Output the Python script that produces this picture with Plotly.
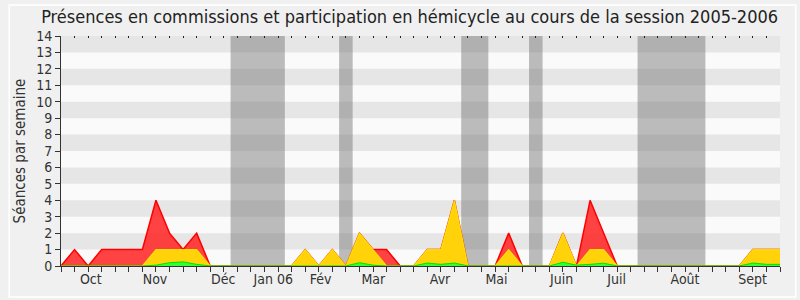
import plotly.graph_objects as go

weeks = list(range(54))
commission = [0,1,0,1,1,1,1,4,2,1,2,0,0,0,0,0,0,0,1,0,1,0,2,1,1,0,0,1,1,4,0,0,0,2,0,0,0,2,0,4,2,0,0,0,0,0,0,0,0,0,0,1,1,1]
hemicycle = [0,0,0,0,0,0,0,1,1,1,1,0,0,0,0,0,0,0,1,0,1,0,2,1,0,0,0,1,1,4,0,0,0,1,0,0,0,2,0,1,1,0,0,0,0,0,0,0,0,0,0,1,1,1]
interventions = [0,0,0,0,0,0,0,0.05,0.2,0.25,0.1,0,0,0,0,0,0,0,0,0,0,0,0.2,0.05,0,0,0,0.18,0.1,0.18,0,0,0,0,0,0,0,0.23,0.05,0.1,0.17,0,0,0,0,0,0,0,0,0,0,0.18,0.1,0.1]
month_labels = ["Oct","Nov","Déc","Jan 06","Fév","Mar","Avr","Mai","Juin","Juil","Août","Sept"]
month_pos = [2.2,6.93,11.96,15.65,19.14,23.02,27.94,32.1,36.9,40.96,46.0,50.98]
vacations = [(12.5,16.5),(20.5,21.5),(29.5,31.5),(34.5,35.5),(42.5,47.5)]
ymax = 14

fig = go.Figure()
fig.add_trace(go.Scatter(x=weeks, y=commission, mode="lines", fill="tozeroy",
                         line=dict(color="#ff0000", width=1.5), fillcolor="rgba(255,40,40,0.88)",
                         hoverinfo="skip", showlegend=False))
fig.add_trace(go.Scatter(x=weeks, y=hemicycle, mode="lines", fill="tozeroy",
                         line=dict(color="rgba(255,235,0,0.85)", width=1.2), fillcolor="#ffd20a",
                         hoverinfo="skip", showlegend=False))
fig.add_trace(go.Scatter(x=weeks, y=interventions, mode="lines", fill="tozeroy",
                         line=dict(color="#00e000", width=1), fillcolor="#33ff33",
                         hoverinfo="skip", showlegend=False))
fig.add_trace(go.Scatter(x=weeks, y=[None]*len(weeks), xaxis="x2", hoverinfo="skip", showlegend=False))

shapes = []
for k in range(ymax):
    if k % 2 == 1:
        shapes.append(dict(type="rect", xref="paper", yref="y", x0=0, x1=1, y0=k, y1=k+1,
                           fillcolor="#e6e6e6", line=dict(width=0), layer="below"))
for a, b in vacations:
    shapes.append(dict(type="rect", xref="x", yref="paper", x0=a, x1=b, y0=0, y1=1,
                       fillcolor="rgba(110,110,110,0.45)", line=dict(width=0), layer="below"))
shapes.append(dict(type="rect", xref="paper", yref="paper", x0=-0.072, x1=1.022, y0=-0.135, y1=1.135,
                   line=dict(color="#ffffff", width=1.5), fillcolor="rgba(0,0,0,0)", layer="below"))

fig.update_layout(
    width=800, height=300,
    margin=dict(l=61, r=20, t=36, b=34),
    paper_bgcolor="#f0f0f0", plot_bgcolor="#fafafa",
    font=dict(family="DejaVu Sans Condensed, DejaVu Sans", size=14, color="#333333"),
    title=dict(text="Présences en commissions et participation en hémicycle au cours de la session 2005-2006",
               x=0.512, xanchor="center", y=0.945, yanchor="middle",
               font=dict(size=18, color="#222222")),
    shapes=shapes,
    xaxis=dict(range=[0, 53], tickmode="array", tickvals=month_pos, ticktext=month_labels,
               ticks="", ticklen=0, showgrid=False, zeroline=False, showline=True,
               linecolor="#333333", linewidth=1, tickfont=dict(size=14, color="#333333"),
               minor=dict(tickmode="array", tickvals=weeks, ticks="outside", ticklen=5,
                          tickcolor="#333333", tickwidth=1, showgrid=False)),
    xaxis2=dict(range=[0, 53], overlaying="x", side="top", tickmode="array", tickvals=weeks,
                showticklabels=False, ticks="inside", ticklen=1.5, tickcolor="#222222",
                showgrid=False, zeroline=False, showline=False),
    yaxis=dict(range=[0, ymax], tickmode="linear", tick0=0, dtick=1, ticks="outside", ticklen=5,
               tickcolor="#333333", showgrid=False, zeroline=False, showline=True,
               linecolor="#333333", linewidth=1, tickfont=dict(size=14, color="#333333"),
               title=dict(text="Séances par semaine", font=dict(size=15, color="#333333"), standoff=6)),
)

fig.write_html("out.html")
